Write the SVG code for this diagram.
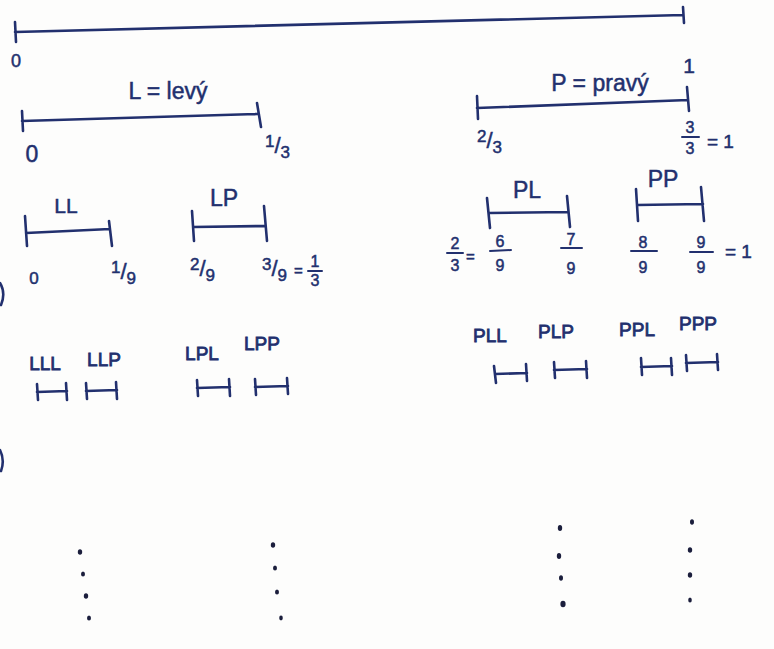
<svg xmlns="http://www.w3.org/2000/svg" width="774" height="649" viewBox="0 0 774 649">
  <style>
    .ink{fill:none;stroke:#22306e;stroke-width:2.6;stroke-linecap:round;stroke-linejoin:round}
    .bar{fill:none;stroke:#22306e;stroke-width:2;stroke-linecap:round}
    text{font-family:"Liberation Sans","DejaVu Sans",sans-serif;fill:#22306e;stroke:#22306e;stroke-width:0.5}
    .lab{font-size:23px;text-anchor:middle}
    .lab3{font-size:19px;text-anchor:middle;stroke-width:0.8}
    .fr{font-size:16px;text-anchor:middle}
    .sl{font-size:17px}
    .dot{fill:#1b1e3c}
  </style>
  <rect width="774" height="649" fill="#fdfdfc"/>

  <!-- whole interval [0,1] -->
  <g id="unit">
    <path class="ink" d="M15,22 L16,42 M15,32 Q350,22 683,15 M683,7 L684,23"/>
    <text x="16" y="67" font-size="18" text-anchor="middle">0</text>
    <text x="689" y="73" font-size="21" text-anchor="middle">1</text>
  </g>

  <!-- first level -->
  <g id="L">
    <text class="lab" x="168" y="99">L = levý</text>
    <path class="ink" d="M22,111 L23,131 M22,121 Q140,118 257,114 M257,103 L261,127"/>
    <text x="32" y="162" font-size="23" text-anchor="middle">0</text>
    <text x="265" y="153" class="sl"><tspan dy="-6">1</tspan><tspan dy="6" font-size="22">/</tspan><tspan dy="5">3</tspan></text>
  </g>

  <g id="P">
    <text class="lab" x="600" y="91">P = pravý</text>
    <path class="ink" d="M477,96 L478,119 M477,108 Q580,104 688,100 M687,87 L689,111"/>
    <text x="477" y="148" class="sl"><tspan dy="-6">2</tspan><tspan dy="6" font-size="22">/</tspan><tspan dy="5">3</tspan></text>
    <text x="690" y="133" class="fr">3</text>
    <path class="bar" d="M682,137 L699,137"/>
    <text x="690" y="154" class="fr">3</text>
    <text x="707" y="148" font-size="19">= 1</text>
  </g>

  <!-- second level -->
  <g id="LL">
    <text x="66" y="213" font-size="21" text-anchor="middle">LL</text>
    <path class="ink" d="M25,216 L27,246 M26,233 Q70,231 110,229 M109,221 L112,246"/>
    <text x="34" y="284" font-size="17" text-anchor="middle">0</text>
    <text x="111" y="279" class="sl"><tspan dy="-6">1</tspan><tspan dy="6" font-size="22">/</tspan><tspan dy="5">9</tspan></text>
  </g>

  <g id="LP">
    <text class="lab" x="224" y="206">LP</text>
    <path class="ink" d="M192,211 L194,241 M193,227 L265,226 M264,206 L267,241"/>
    <text x="190" y="276" class="sl"><tspan dy="-6">2</tspan><tspan dy="6" font-size="22">/</tspan><tspan dy="5">9</tspan></text>
    <text x="262" y="276" class="sl"><tspan dy="-6">3</tspan><tspan dy="6" font-size="22">/</tspan><tspan dy="5">9</tspan></text>
    <text x="294" y="276" font-size="15">=</text>
    <text x="315" y="267" class="fr">1</text>
    <path class="bar" d="M308,271 L322,271"/>
    <text x="315" y="286" class="fr">3</text>
  </g>

  <g id="PL">
    <text class="lab" x="527" y="198">PL</text>
    <path class="ink" d="M487,198 L490,228 M489,213 L568,212 M567,196 L570,227"/>
    <text x="455" y="249" class="fr">2</text>
    <path class="bar" d="M447,253 L463,253"/>
    <text x="455" y="271" class="fr">3</text>
    <text x="466" y="262" font-size="15">=</text>
    <text x="500" y="247" class="fr">6</text>
    <path class="bar" d="M490,251 L511,250"/>
    <text x="500" y="271" class="fr">9</text>
    <text x="571" y="245" class="fr">7</text>
    <path class="bar" d="M561,248 L582,248"/>
    <text x="571" y="274" class="fr">9</text>
  </g>

  <g id="PP">
    <text class="lab" x="663" y="187">PP</text>
    <path class="ink" d="M636,189 L638,221 M637,205 L703,204 M701,187 L704,221"/>
    <text x="643" y="248" class="fr">8</text>
    <path class="bar" d="M631,251 L657,251"/>
    <text x="643" y="273" class="fr">9</text>
    <text x="701" y="248" class="fr">9</text>
    <path class="bar" d="M690,252 L713,252"/>
    <text x="701" y="273" class="fr">9</text>
    <text x="725" y="258" font-size="19">= 1</text>
  </g>

  <!-- third level -->
  <g id="LLL"><text class="lab3" x="45" y="370">LLL</text><path class="ink" d="M37,384 L38,400 M37,392 L67,391 M66,383 L67,400"/></g>
  <g id="LLP"><text class="lab3" x="104" y="366">LLP</text><path class="ink" d="M86,383 L87,399 M86,391 L117,390 M116,382 L117,399"/></g>
  <g id="LPL"><text class="lab3" x="202" y="360">LPL</text><path class="ink" d="M197,380 L198,396 M197,388 L230,387 M229,379 L230,396"/></g>
  <g id="LPP"><text class="lab3" x="262" y="350">LPP</text><path class="ink" d="M255,379 L256,395 M255,387 L288,386 M287,378 L288,394"/></g>
  <g id="PLL"><text class="lab3" x="490" y="342">PLL</text><path class="ink" d="M494,366 L496,383 M495,374 L527,373 M526,364 L527,381"/></g>
  <g id="PLP"><text class="lab3" x="556" y="338">PLP</text><path class="ink" d="M554,362 L555,378 M554,370 L587,369 M586,361 L587,378"/></g>
  <g id="PPL"><text class="lab3" x="637" y="336">PPL</text><path class="ink" d="M641,358 L642,375 M641,367 L672,366 M671,358 L672,375"/></g>
  <g id="PPP"><text class="lab3" x="698" y="330">PPP</text><path class="ink" d="M686,355 L687,371 M686,363 L718,362 M717,354 L718,370"/></g>

  <!-- continuation dots -->
  <g id="dots">
    <ellipse class="dot" cx="80" cy="552" rx="2.2" ry="2.8"/>
    <ellipse class="dot" cx="83" cy="574" rx="2" ry="2.5"/>
    <ellipse class="dot" cx="86" cy="596" rx="2.2" ry="2.8"/>
    <ellipse class="dot" cx="89" cy="618" rx="2" ry="2.5"/>
    <ellipse class="dot" cx="273" cy="545" rx="2.2" ry="2.8"/>
    <ellipse class="dot" cx="275" cy="568" rx="2" ry="2.5"/>
    <ellipse class="dot" cx="277" cy="592" rx="2" ry="2.5"/>
    <ellipse class="dot" cx="281" cy="618" rx="1.8" ry="2.4"/>
    <ellipse class="dot" cx="560" cy="528" rx="2.2" ry="3"/>
    <ellipse class="dot" cx="559" cy="556" rx="2.2" ry="3"/>
    <ellipse class="dot" cx="561" cy="578" rx="2" ry="2.8"/>
    <ellipse class="dot" cx="563" cy="604" rx="2.6" ry="3.2"/>
    <ellipse class="dot" cx="692" cy="522" rx="2" ry="2.8"/>
    <ellipse class="dot" cx="690" cy="550" rx="2.2" ry="2.8"/>
    <ellipse class="dot" cx="690" cy="575" rx="2.2" ry="2.8"/>
    <ellipse class="dot" cx="690" cy="600" rx="1.8" ry="2.5"/>
  </g>

  <!-- pen strokes at the left margin -->
  <path class="ink" d="M0,283 Q6,293 1,305 M0,450 Q5,460 1,471"/>
</svg>
